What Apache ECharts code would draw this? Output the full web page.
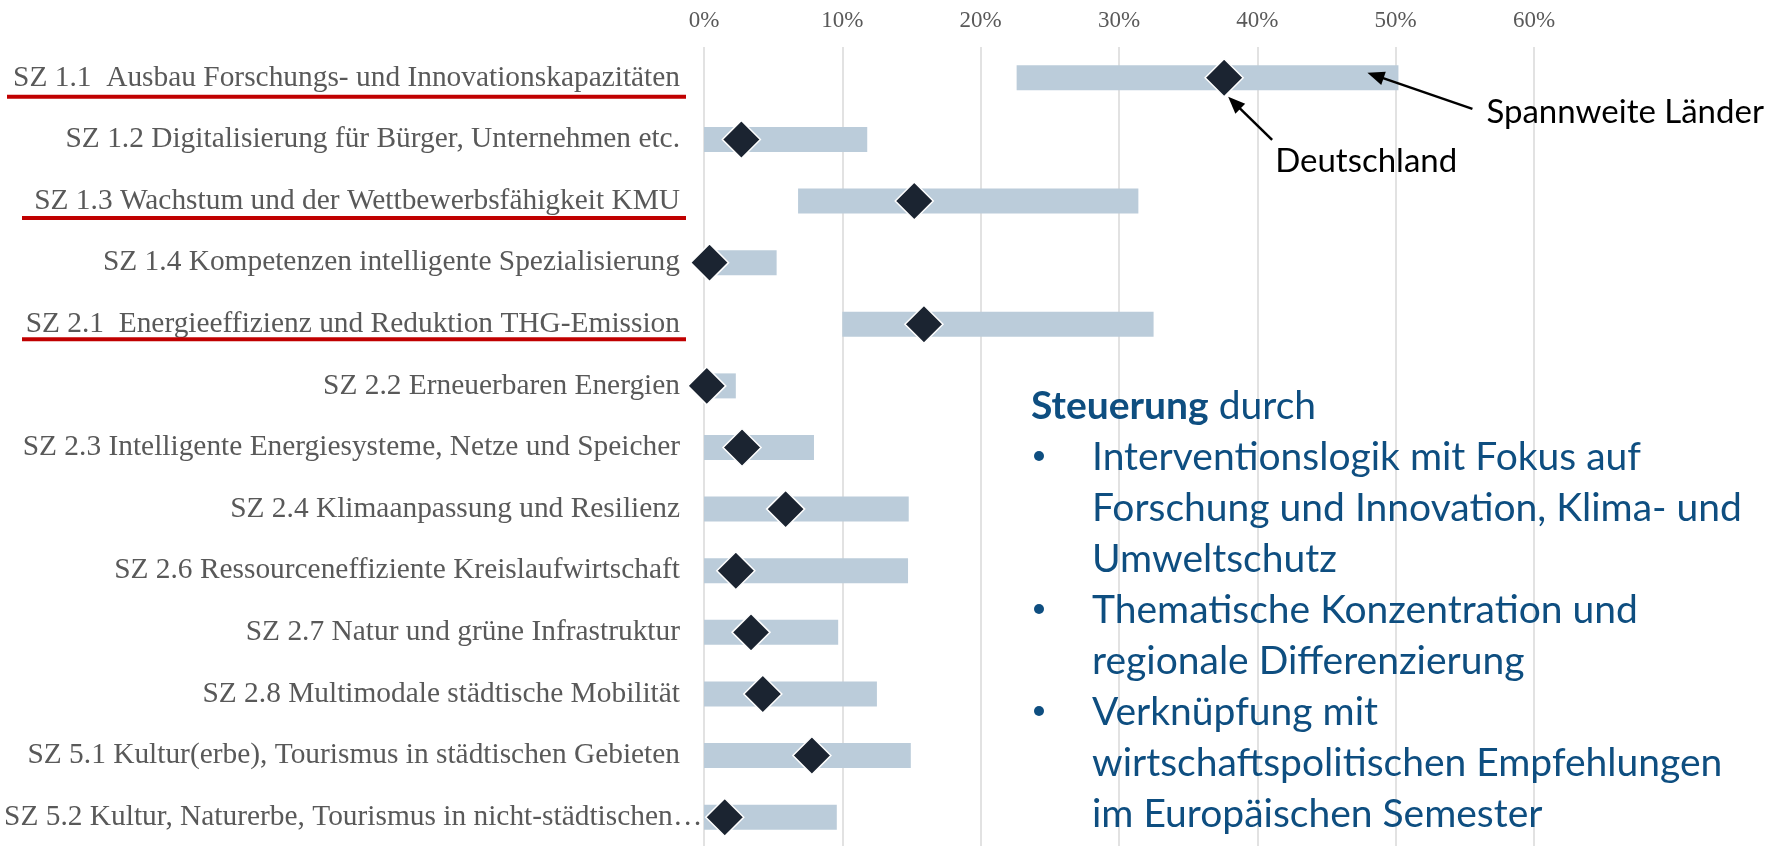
<!DOCTYPE html>
<html><head><meta charset="utf-8">
<script src="https://cdn.jsdelivr.net/npm/echarts@6/dist/echarts.min.js"></script>
<style>html,body{margin:0;padding:0;background:#fff;} #c{width:1788px;height:846px;}</style>
</head><body><div id="c"></div>
<script>
// ---- data ----
const categories = [
  'SZ 1.1  Ausbau Forschungs- und Innovationskapazitäten',
  'SZ 1.2 Digitalisierung für Bürger, Unternehmen etc.',
  'SZ 1.3 Wachstum und der Wettbewerbsfähigkeit KMU',
  'SZ 1.4 Kompetenzen intelligente Spezialisierung',
  'SZ 2.1  Energieeffizienz und Reduktion THG-Emission',
  'SZ 2.2 Erneuerbaren Energien',
  'SZ 2.3 Intelligente Energiesysteme, Netze und Speicher',
  'SZ 2.4 Klimaanpassung und Resilienz',
  'SZ 2.6 Ressourceneffiziente Kreislaufwirtschaft',
  'SZ 2.7 Natur und grüne Infrastruktur',
  'SZ 2.8 Multimodale städtische Mobilität',
  'SZ 5.1 Kultur(erbe), Tourismus in städtischen Gebieten',
  'SZ 5.2 Kultur, Naturerbe, Tourismus in nicht-städtischen…'
];
const rangeMin = [22.6, 0, 6.8, 0, 10.0, 0, 0, 0, 0, 0, 0, 0, 0];
const rangeMax = [50.2, 11.8, 31.4, 5.25, 32.5, 2.3, 7.95, 14.8, 14.75, 9.7, 12.5, 14.95, 9.6];
const germany  = [37.6, 2.7, 15.2, 0.4, 15.9, 0.2, 2.75, 5.9, 2.3, 3.4, 4.25, 7.8, 1.5];
const xTickValues = [0, 10, 20, 30, 40, 50, 60];
const underlinedRows = [0, 2, 4];
const annotationRange = 'Spannweite Länder';
const annotationGermany = 'Deutschland';
const boxTitleBold = 'Steuerung';
const boxTitleRest = ' durch';
const bullets = [
  ['Interventionslogik mit Fokus auf', 'Forschung und Innovation, Klima- und', 'Umweltschutz'],
  ['Thematische Konzentration und', 'regionale Differenzierung'],
  ['Verknüpfung mit', 'wirtschaftspolitischen Empfehlungen', 'im Europäischen Semester']
];

// ---- chart ----
const chart = echarts.init(document.getElementById('c'), null, {renderer: 'canvas'});
const SERIF = 'Liberation Serif';
const SANS = 'Lato';
const LABEL_SIZE = 29.4;
const LABEL_MARGIN = 24;
const ELL = '…';

chart.setOption({
  animation: false,
  backgroundColor: '#ffffff',
  grid: {left: 704, right: 254, top: 47, height: 801, containLabel: false, outerBoundsMode: 'none'},
  xAxis: {
    type: 'value', position: 'top',
    min: xTickValues[0], max: xTickValues[xTickValues.length - 1], interval: xTickValues[1] - xTickValues[0],
    axisLine: {show: false}, axisTick: {show: false},
    splitLine: {show: true, lineStyle: {color: '#D9D9D9', width: 1.5}},
    axisLabel: {formatter: '{value}%', fontFamily: SERIF, fontSize: 23, color: '#595959', margin: 15}
  },
  yAxis: {
    type: 'category', data: categories, inverse: true,
    axisLine: {show: false}, axisTick: {show: false}, splitLine: {show: false},
    axisLabel: {
      interval: 0, fontFamily: SERIF, fontSize: LABEL_SIZE, color: '#595959', margin: LABEL_MARGIN,
      // a truncated label's ellipsis hangs past the label column (drawn below)
      formatter: function (v) { return v.endsWith(ELL) ? v.slice(0, -1) + ' ' : v; }
    }
  },
  series: [
    {
      type: 'bar', name: 'base', stack: 'r', barWidth: 25, silent: true,
      itemStyle: {color: 'rgba(0,0,0,0)'}, data: rangeMin
    },
    {
      type: 'bar', name: annotationRange, stack: 'r', barWidth: 25,
      itemStyle: {color: '#BBCCDA'},
      data: rangeMax.map((v, i) => +(v - rangeMin[i]).toFixed(3))
    },
    {
      type: 'scatter', name: annotationGermany, z: 5,
      symbol: 'diamond', symbolSize: 38,
      itemStyle: {color: '#1B2431', borderColor: '#ffffff', borderWidth: 1.5, opacity: 1},
      data: germany.map((v, i) => [v, i])
    }
  ]
});

// ---- annotations (anchored to data via the axes) ----
function px(x, row) { return chart.convertToPixel({gridIndex: 0}, [x, row]); }
function arrow(x1, y1, x2, y2) {
  const dx = x2 - x1, dy = y2 - y1, L = Math.hypot(dx, dy), ux = dx / L, uy = dy / L;
  const hl = 17, hw = 7;
  const bx = x2 - ux * hl, by = y2 - uy * hl;
  return [
    {type: 'line', shape: {x1: x1, y1: y1, x2: bx + ux * 2, y2: by + uy * 2}, style: {stroke: '#000', lineWidth: 2.5}, z: 20},
    {type: 'polygon', shape: {points: [[x2, y2], [bx - uy * hw, by + ux * hw], [bx + uy * hw, by - ux * hw]]}, style: {fill: '#000'}, z: 20}
  ];
}

const g = [];
const gridLeft = px(0, 0)[0];

// hanging ellipsis for truncated labels
categories.forEach((c, r) => {
  if (c.endsWith(ELL)) {
    g.push({type: 'text', x: gridLeft - LABEL_MARGIN - 7, y: px(0, r)[1], z: 4,
      style: {text: ELL, fontFamily: SERIF, fontSize: LABEL_SIZE, fill: '#595959', align: 'left', verticalAlign: 'middle'}});
  }
});

// red underlines under selected labels
const underlineStart = {0: 7, 2: 22, 4: 22};
const underlineDrop = {0: 19, 2: 17, 4: 15};
underlinedRows.forEach(r => {
  const y = px(0, r)[1] + underlineDrop[r];
  g.push({type: 'line', shape: {x1: underlineStart[r], y1: y, x2: gridLeft - 18, y2: y},
          style: {stroke: '#C00000', lineWidth: 4}, z: 10});
});

// Deutschland arrow
const dP = px(germany[0], 0);
const dTip = [dP[0] + 4, dP[1] + 19];
const dTail = [dTip[0] + 44, dTip[1] + 43];
g.push(...arrow(dTail[0], dTail[1], dTip[0], dTip[1]));
g.push({type: 'text', x: dTail[0] + 3, y: dTail[1] + 22, z: 20,
  style: {text: annotationGermany, fontFamily: SANS, fontSize: 33, fill: '#000', align: 'left', verticalAlign: 'middle'}});

// Spannweite arrow
const sP = px(rangeMax[0], 0);
const sTip = [sP[0] - 31, sP[1] - 5];
const sTail = [sTip[0] + 105, sTip[1] + 36];
g.push(...arrow(sTail[0], sTail[1], sTip[0], sTip[1]));
g.push({type: 'text', x: sTail[0] + 14, y: sTail[1] + 4, z: 20,
  style: {text: annotationRange, fontFamily: SANS, fontSize: 33, fill: '#000', align: 'left', verticalAlign: 'middle'}});

// text box on the right
const BLUE = '#0E4E80';
const lineH = 51;
let y0 = 406;
g.push({type: 'text', x: 1031, y: y0, z: 20, style: {
  text: '{b|' + boxTitleBold + '}{n|' + boxTitleRest + '}', verticalAlign: 'middle', align: 'left',
  rich: {b: {fontFamily: SANS, fontWeight: 'bold', fontSize: 39, fill: BLUE, color: BLUE},
         n: {fontFamily: SANS, fontSize: 39, fill: BLUE, color: BLUE}}}});
let li = 1;
bullets.forEach(lines => {
  lines.forEach((t, k) => {
    const y = y0 + li * lineH;
    if (k === 0) {
      g.push({type: 'circle', shape: {cx: 1039, cy: y - 1, r: 5}, style: {fill: BLUE}, z: 20});
    }
    g.push({type: 'text', x: 1092, y: y, z: 20,
      style: {text: t, fontFamily: SANS, fontSize: 39, fill: BLUE, align: 'left', verticalAlign: 'middle'}});
    li++;
  });
});

chart.setOption({graphic: {elements: g}});
</script>
</body></html>
